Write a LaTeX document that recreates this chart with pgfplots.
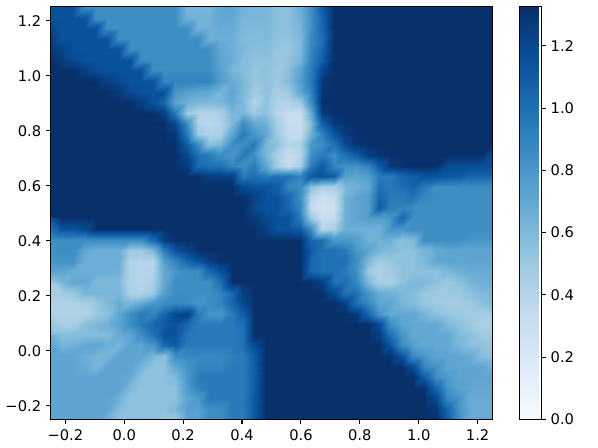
\documentclass[border=0pt]{standalone}
\usepackage{fontspec}
\setmainfont{DejaVu Sans}
\usepackage{pgfplots}
\pgfplotsset{compat=1.18}
\begin{document}
\begin{tikzpicture}[x=1pt,y=1pt]
\path[use as bounding box] (-37.95,-21.4) rectangle (410.55,314.6);
\begin{axis}[
 at={(0,0)},anchor=south west,scale only axis,width=331.3pt,height=309.4pt,
 xmin=-0.25,xmax=1.25,ymin=-0.25,ymax=1.25,
 axis on top,axis line style={line width=0.8pt,black},
 tick align=outside,tick pos=lower,
 major tick length=3.6pt,tick style={line width=0.8pt,black},
 xtick={-0.2,0,0.2,0.4,0.6,0.8,1.0,1.2},
 xticklabels={−0.2,0.0,0.2,0.4,0.6,0.8,1.0,1.2},
 ytick={-0.2,0,0.2,0.4,0.6,0.8,1.0,1.2},
 yticklabels={−0.2,0.0,0.2,0.4,0.6,0.8,1.0,1.2},
 tick label style={font=\fontsize{11}{13}\selectfont},
 x tick label style={yshift=-0.5pt},
 colormap={blues}{rgb255=(247,251,255) rgb255=(222,235,247) rgb255=(198,219,239) rgb255=(158,202,225) rgb255=(107,174,214) rgb255=(66,146,198) rgb255=(33,113,181) rgb255=(8,81,156) rgb255=(8,48,107)},
 colormap name=blues,
 point meta min=0,point meta max=1.325,
 colorbar,
 colorbar style={
  at={(parent axis.north east)},anchor=north west,xshift=11.8pt,
  width=16.3pt,height=309.4pt,
  ytick={0,0.2,0.4,0.6,0.8,1.0,1.2},
  yticklabels={0.0,0.2,0.4,0.6,0.8,1.0,1.2},
  tick align=outside,tick pos=right,
  major tick length=3.6pt,tick style={line width=0.8pt,black},
  axis on top,
  axis line style={line width=0.8pt,black},
  yticklabel style={font=\fontsize{11}{13}\selectfont},
 },
]
\addplot[surf,shader=interp,mesh/cols=40,mesh/ordering=x varies,point meta=\thisrow{c}]
 table[row sep=crcr,
  x expr={-0.25+(1.5/39)*mod(\coordindex,40)},
  y expr={1.25-(1.5/39)*floor(\coordindex/40)}]{
c\\
1.15\\1.15\\1.15\\.85\\.85\\.85\\.85\\.85\\.85\\.85\\.85\\.85\\.62\\.62\\.62\\.72\\.72\\.64\\.62\\.62\\.56\\.56\\.66\\.85\\1.1\\1.32\\1.32\\1.32\\1.32\\1.32\\1.32\\1.32\\1.32\\1.32\\1.32\\1.32\\1.32\\1.32\\1.32\\1.32\\
1.15\\1.15\\1.15\\1.15\\.85\\.85\\.85\\.85\\.85\\.85\\.85\\.85\\.64\\.64\\.64\\.7\\.7\\.62\\.62\\.62\\.56\\.56\\.64\\.85\\1.05\\1.32\\1.32\\1.32\\1.32\\1.32\\1.32\\1.32\\1.32\\1.32\\1.32\\1.32\\1.32\\1.32\\1.32\\1.32\\
1.2\\1.15\\1.15\\1.15\\1.15\\.85\\.85\\.85\\.85\\.85\\.85\\.85\\.85\\.64\\.64\\.68\\.68\\.6\\.6\\.6\\.56\\.56\\.62\\.85\\1.05\\1.32\\1.32\\1.32\\1.32\\1.32\\1.32\\1.32\\1.32\\1.32\\1.32\\1.32\\1.32\\1.32\\1.32\\1.32\\
1.22\\1.15\\1.15\\1.15\\1.15\\1.15\\.85\\.85\\.85\\.85\\.85\\.85\\.85\\.85\\.66\\.66\\.66\\.58\\.58\\.6\\.54\\.54\\.6\\.88\\1.0\\1.32\\1.32\\1.32\\1.32\\1.32\\1.32\\1.32\\1.32\\1.32\\1.32\\1.32\\1.32\\1.32\\1.32\\1.32\\
1.28\\1.22\\1.15\\1.15\\1.15\\1.15\\1.15\\.85\\.85\\.85\\.85\\.85\\.85\\.85\\.85\\.7\\.66\\.6\\.56\\.58\\.52\\.52\\.6\\.9\\1.05\\1.32\\1.32\\1.32\\1.32\\1.32\\1.32\\1.32\\1.32\\1.32\\1.32\\1.32\\1.32\\1.32\\1.32\\1.32\\
1.32\\1.25\\1.2\\1.15\\1.15\\1.15\\1.15\\1.15\\.85\\.85\\.85\\.85\\.85\\.85\\.85\\.72\\.66\\.58\\.55\\.55\\.52\\.54\\.62\\.92\\1.1\\1.32\\1.32\\1.32\\1.32\\1.32\\1.32\\1.32\\1.32\\1.32\\1.32\\1.32\\1.32\\1.32\\1.32\\1.32\\
1.32\\1.32\\1.32\\1.25\\1.18\\1.15\\1.15\\1.15\\1.15\\.85\\.85\\.85\\.85\\.85\\.85\\.75\\.62\\.58\\.52\\.55\\.5\\.56\\.72\\.95\\1.2\\1.32\\1.32\\1.32\\1.32\\1.32\\1.32\\1.32\\1.32\\1.32\\1.32\\1.32\\1.32\\1.32\\1.32\\1.32\\
1.32\\1.32\\1.32\\1.32\\1.32\\1.25\\1.2\\1.15\\1.15\\1.15\\.9\\.9\\.9\\.9\\.9\\.78\\.68\\.6\\.52\\.55\\.5\\.58\\.75\\.95\\1.28\\1.32\\1.32\\1.32\\1.32\\1.32\\1.32\\1.32\\1.32\\1.32\\1.32\\1.32\\1.32\\1.32\\1.32\\1.32\\
1.32\\1.32\\1.32\\1.32\\1.32\\1.32\\1.28\\1.2\\1.15\\1.15\\1.15\\.8\\.75\\.7\\.7\\.62\\.72\\.6\\.48\\.55\\.45\\.5\\.7\\.92\\1.3\\1.32\\1.32\\1.32\\1.32\\1.32\\1.32\\1.32\\1.32\\1.32\\1.32\\1.32\\1.32\\1.32\\1.32\\1.32\\
1.32\\1.32\\1.32\\1.32\\1.32\\1.32\\1.32\\1.32\\1.25\\1.15\\1.05\\.72\\.65\\.62\\.6\\.62\\.68\\.6\\.42\\.55\\.42\\.42\\.5\\.85\\1.32\\1.32\\1.32\\1.32\\1.32\\1.32\\1.32\\1.32\\1.32\\1.32\\1.32\\1.32\\1.32\\1.32\\1.32\\1.32\\
1.32\\1.32\\1.32\\1.32\\1.32\\1.32\\1.32\\1.32\\1.32\\1.32\\1.25\\.95\\.5\\.42\\.42\\.45\\.62\\.62\\.5\\.55\\.4\\.32\\.3\\.7\\1.28\\1.32\\1.32\\1.32\\1.32\\1.32\\1.32\\1.32\\1.32\\1.32\\1.32\\1.32\\1.32\\1.32\\1.32\\1.32\\
1.32\\1.32\\1.32\\1.32\\1.32\\1.32\\1.32\\1.32\\1.32\\1.32\\1.32\\1.2\\.85\\.42\\.38\\.42\\.6\\.85\\.7\\.65\\.45\\.32\\.3\\.6\\1.1\\1.28\\1.32\\1.32\\1.32\\1.32\\1.32\\1.32\\1.32\\1.32\\1.32\\1.32\\1.32\\1.32\\1.32\\1.32\\
1.32\\1.32\\1.32\\1.32\\1.32\\1.32\\1.32\\1.32\\1.32\\1.32\\1.32\\1.28\\.95\\.5\\.42\\.45\\.72\\.95\\.8\\.7\\.5\\.35\\.32\\.65\\.9\\1.15\\1.28\\1.32\\1.32\\1.32\\1.32\\1.32\\1.32\\1.32\\1.32\\1.32\\1.32\\1.32\\1.32\\1.32\\
1.32\\1.32\\1.32\\1.32\\1.32\\1.32\\1.32\\1.32\\1.32\\1.32\\1.32\\1.32\\1.1\\.85\\.55\\.6\\.85\\.85\\.95\\.62\\.55\\.4\\.45\\.8\\.85\\1.0\\1.2\\1.3\\1.32\\1.32\\1.32\\1.32\\1.32\\1.32\\1.32\\1.32\\1.32\\1.32\\1.32\\1.32\\
1.32\\1.32\\1.32\\1.32\\1.32\\1.32\\1.32\\1.32\\1.32\\1.32\\1.32\\1.32\\1.2\\1.0\\.95\\.85\\.8\\.95\\.85\\.6\\.45\\.32\\.38\\.85\\.95\\.85\\1.0\\1.1\\1.25\\1.3\\1.32\\1.32\\1.32\\1.32\\1.32\\1.32\\1.32\\1.32\\1.32\\1.18\\
1.32\\1.32\\1.32\\1.32\\1.32\\1.32\\1.32\\1.32\\1.32\\1.32\\1.32\\1.32\\1.28\\1.02\\1.0\\1.0\\.9\\.85\\.95\\.7\\.45\\.35\\.45\\.95\\1.1\\.9\\.82\\.82\\.9\\1.1\\1.28\\1.32\\1.32\\1.32\\1.32\\1.18\\1.18\\1.18\\1.18\\1.18\\
1.32\\1.32\\1.32\\1.32\\1.32\\1.32\\1.32\\1.32\\1.32\\1.32\\1.32\\1.32\\1.32\\1.32\\1.25\\1.25\\1.25\\.95\\1.0\\.95\\1.0\\.98\\.9\\1.1\\1.15\\1.1\\.75\\.72\\.75\\.95\\.95\\1.05\\1.1\\1.15\\1.15\\1.12\\1.12\\1.05\\1.05\\1.05\\
1.32\\1.32\\1.32\\1.32\\1.32\\1.32\\1.32\\1.32\\1.32\\1.32\\1.32\\1.32\\1.32\\1.32\\1.32\\1.32\\1.32\\1.2\\1.15\\1.15\\1.1\\.9\\.85\\.55\\.42\\.45\\.6\\.65\\.7\\1.0\\.95\\1.0\\1.05\\.95\\.85\\.85\\.85\\.85\\.85\\.85\\
1.32\\1.32\\1.32\\1.32\\1.32\\1.32\\1.32\\1.32\\1.32\\1.32\\1.32\\1.32\\1.32\\1.32\\1.32\\1.32\\1.32\\1.32\\1.25\\1.15\\1.15\\1.05\\.85\\.4\\.3\\.35\\.65\\.72\\.75\\1.05\\.95\\.95\\1.0\\.88\\.85\\.85\\.85\\.85\\.85\\.85\\
1.32\\1.32\\1.32\\1.32\\1.32\\1.32\\1.32\\1.32\\1.32\\1.32\\1.32\\1.32\\1.32\\1.32\\1.32\\1.32\\1.32\\1.32\\1.2\\1.15\\1.15\\1.05\\.9\\.35\\.25\\.3\\.65\\.72\\.75\\1.1\\.92\\.9\\.85\\.85\\.85\\.85\\.85\\.85\\.85\\.85\\
1.32\\1.32\\1.32\\1.32\\1.32\\1.32\\1.32\\1.32\\1.32\\1.32\\1.32\\1.32\\1.32\\1.32\\1.32\\1.32\\1.32\\1.32\\1.28\\1.2\\1.15\\1.15\\.95\\.5\\.3\\.35\\.65\\.72\\.75\\.75\\.8\\1.05\\.85\\.85\\.85\\.85\\.85\\.85\\.85\\.85\\
1.15\\1.15\\1.15\\1.2\\1.32\\1.32\\1.32\\1.32\\1.32\\1.32\\1.32\\1.32\\1.32\\1.32\\1.32\\1.32\\1.32\\1.32\\1.32\\1.25\\1.15\\1.15\\1.1\\.85\\.4\\.45\\.65\\.65\\.65\\.65\\.8\\.8\\.85\\.85\\.85\\.85\\.85\\.85\\.85\\.85\\
.85\\.85\\.85\\.85\\.85\\.85\\.85\\.85\\.85\\1.05\\1.25\\1.32\\1.32\\1.32\\1.32\\1.32\\1.32\\1.32\\1.32\\1.32\\1.32\\1.32\\1.32\\1.05\\1.0\\.8\\.8\\.75\\.65\\.65\\.65\\.55\\.6\\.85\\.85\\.85\\.85\\.8\\.8\\.8\\
.85\\.85\\.85\\.7\\.66\\.66\\.66\\.5\\.5\\.6\\.95\\1.15\\1.25\\1.32\\1.32\\1.32\\1.32\\1.32\\1.32\\1.32\\1.32\\1.32\\1.32\\1.1\\1.0\\1.0\\.95\\.8\\.72\\.62\\.6\\.55\\.55\\.62\\.68\\.72\\.72\\.72\\.72\\.72\\
.82\\.82\\.82\\.66\\.66\\.66\\.66\\.42\\.4\\.4\\.75\\.9\\1.05\\1.15\\1.25\\1.32\\1.32\\1.32\\1.32\\1.32\\1.32\\1.32\\1.32\\1.05\\1.0\\1.0\\1.0\\.85\\.6\\.48\\.52\\.55\\.55\\.6\\.7\\.72\\.72\\.72\\.72\\.72\\
.72\\.72\\.66\\.66\\.66\\.66\\.65\\.42\\.4\\.42\\.7\\.8\\.85\\.85\\1.05\\1.15\\1.32\\1.32\\1.32\\1.32\\1.32\\1.32\\1.32\\1.05\\1.0\\1.0\\.95\\.85\\.5\\.42\\.48\\.55\\.55\\.55\\.55\\.6\\.65\\.68\\.68\\.68\\
.55\\.62\\.7\\.7\\.6\\.6\\.6\\.42\\.4\\.45\\.7\\.85\\.85\\.85\\.85\\1.0\\1.32\\1.32\\1.32\\1.32\\1.32\\1.32\\1.32\\1.32\\1.25\\1.0\\1.0\\.9\\.6\\.45\\.45\\.55\\.6\\.6\\.55\\.5\\.55\\.62\\.66\\.66\\
.48\\.48\\.52\\.62\\.62\\.62\\.62\\.45\\.42\\.5\\.75\\.85\\.85\\.85\\.85\\.9\\1.05\\1.25\\1.32\\1.32\\1.32\\1.32\\1.32\\1.32\\1.32\\1.2\\1.0\\1.0\\.82\\.68\\.65\\.6\\.58\\.52\\.5\\.5\\.5\\.55\\.6\\.62\\
.43\\.43\\.43\\.45\\.52\\.6\\.68\\.62\\.7\\.8\\.85\\.9\\.85\\.8\\.85\\.9\\1.05\\1.2\\1.32\\1.32\\1.32\\1.32\\1.32\\1.32\\1.32\\1.32\\1.25\\1.0\\.88\\.72\\.7\\.62\\.58\\.52\\.5\\.48\\.48\\.5\\.55\\.6\\
.42\\.42\\.42\\.42\\.5\\.55\\.72\\.85\\.95\\.9\\1.05\\1.2\\1.25\\.95\\.82\\.8\\.95\\1.1\\1.32\\1.32\\1.32\\1.32\\1.32\\1.32\\1.32\\1.32\\1.32\\1.28\\1.05\\.8\\.7\\.7\\.7\\.62\\.55\\.52\\.5\\.48\\.47\\.47\\
.45\\.45\\.45\\.55\\.6\\.65\\.72\\.85\\.95\\1.05\\1.1\\1.15\\1.05\\.95\\.95\\.95\\.95\\1.0\\1.32\\1.32\\1.32\\1.32\\1.32\\1.32\\1.32\\1.32\\1.32\\1.32\\1.32\\1.2\\.85\\.72\\.7\\.7\\.7\\.6\\.55\\.5\\.45\\.45\\
.58\\.58\\.58\\.58\\.58\\.58\\.68\\.72\\.85\\1.0\\1.15\\1.15\\.98\\.95\\.95\\.95\\.95\\1.0\\1.32\\1.32\\1.32\\1.32\\1.32\\1.32\\1.32\\1.32\\1.32\\1.32\\1.32\\1.25\\1.0\\.8\\.7\\.7\\.7\\.7\\.6\\.55\\.5\\.48\\
.68\\.62\\.65\\.7\\.72\\.66\\.62\\.72\\.72\\.8\\1.05\\1.1\\.95\\.95\\.95\\.95\\.95\\1.0\\1.2\\1.32\\1.32\\1.32\\1.32\\1.32\\1.32\\1.32\\1.32\\1.32\\1.32\\1.32\\1.15\\.85\\.75\\.7\\.7\\.7\\.62\\.55\\.55\\.5\\
.72\\.72\\.72\\.66\\.62\\.62\\.72\\.72\\.72\\.62\\.55\\.85\\.88\\.88\\.88\\.88\\.92\\.95\\1.1\\1.32\\1.32\\1.32\\1.32\\1.32\\1.32\\1.32\\1.32\\1.32\\1.32\\1.32\\1.32\\1.15\\.85\\.8\\.72\\.72\\.72\\.68\\.58\\.55\\
.72\\.72\\.72\\.68\\.62\\.72\\.72\\.72\\.62\\.55\\.55\\.7\\.82\\.9\\.9\\.9\\.95\\.95\\1.1\\1.32\\1.32\\1.32\\1.32\\1.32\\1.32\\1.32\\1.32\\1.32\\1.32\\1.32\\1.32\\1.32\\1.2\\.9\\.82\\.72\\.72\\.72\\.72\\.65\\
.72\\.72\\.72\\.72\\.72\\.72\\.72\\.68\\.55\\.55\\.55\\.6\\.8\\.95\\.95\\.95\\.95\\.95\\1.1\\1.32\\1.32\\1.32\\1.32\\1.32\\1.32\\1.32\\1.32\\1.32\\1.32\\1.32\\1.32\\1.32\\1.32\\1.1\\.85\\.78\\.72\\.72\\.72\\.72\\
.72\\.72\\.72\\.72\\.72\\.72\\.72\\.6\\.55\\.55\\.55\\.55\\.78\\.9\\.95\\.95\\.95\\.95\\1.1\\1.32\\1.32\\1.32\\1.32\\1.32\\1.32\\1.32\\1.32\\1.32\\1.32\\1.32\\1.32\\1.32\\1.32\\1.32\\1.05\\.82\\.75\\.7\\.7\\.7\\
.72\\.72\\.72\\.72\\.72\\.72\\.65\\.55\\.55\\.55\\.55\\.55\\.72\\.78\\.95\\.95\\.95\\.95\\1.12\\1.32\\1.32\\1.32\\1.32\\1.32\\1.32\\1.32\\1.32\\1.32\\1.32\\1.32\\1.32\\1.32\\1.32\\1.32\\1.2\\.88\\.82\\.68\\.68\\.68\\
.72\\.72\\.72\\.72\\.72\\.72\\.58\\.55\\.55\\.55\\.55\\.6\\.75\\.75\\.85\\.85\\.95\\.95\\1.12\\1.32\\1.32\\1.32\\1.32\\1.32\\1.32\\1.32\\1.32\\1.32\\1.32\\1.32\\1.32\\1.32\\1.32\\1.32\\1.28\\1.05\\.82\\.68\\.68\\.68\\
.72\\.72\\.72\\.72\\.72\\.65\\.55\\.55\\.55\\.55\\.52\\.5\\.72\\.75\\.85\\.85\\.95\\.95\\1.12\\1.32\\1.32\\1.32\\1.32\\1.32\\1.32\\1.32\\1.32\\1.32\\1.32\\1.32\\1.32\\1.32\\1.32\\1.32\\1.32\\1.1\\.85\\.68\\.68\\.68\\
};
\end{axis}
\end{tikzpicture}
\end{document}
